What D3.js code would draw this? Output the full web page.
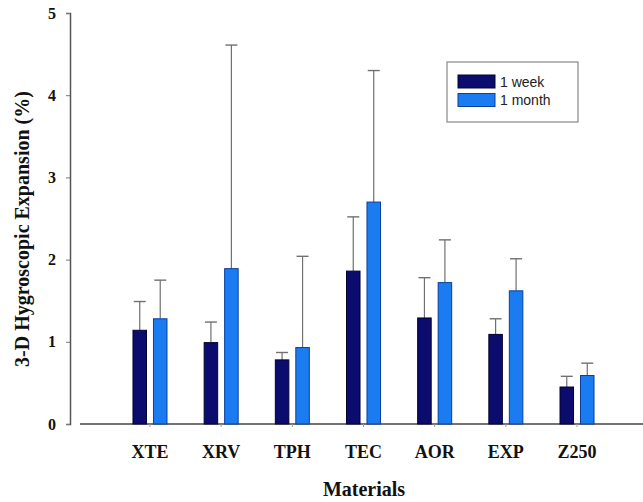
<!DOCTYPE html>
<html>
<head>
<meta charset="utf-8">
<script src="https://cdn.jsdelivr.net/npm/d3@7"></script>
<style>
  html, body { margin: 0; padding: 0; background: #fff; }
  svg { display: block; }
</style>
</head>
<body>
<svg id="chart" width="643" height="502"></svg>
<script>
const categories = ["XTE", "XRV", "TPH", "TEC", "AOR", "EXP", "Z250"];
const seriesNames = ["1 week", "1 month"];
const weekValues = [1.14, 0.99, 0.78, 1.86, 1.29, 1.09, 0.45];
const weekErrors = [0.35, 0.25, 0.09, 0.66, 0.49, 0.19, 0.13];
const monthValues = [1.28, 1.89, 0.93, 2.70, 1.72, 1.62, 0.59];
const monthErrors = [0.47, 2.72, 1.11, 1.60, 0.52, 0.39, 0.15];
const yTicks = [0, 1, 2, 3, 4, 5];
const colors = ["#0c0c6e", "#1b7bf0"];
const strokes = ["#02022e", "#0a3f9e"];

const svg = d3.select("#chart");
const serif = "'Liberation Serif', 'Times New Roman', serif";
const sans = "'Liberation Sans', Arial, sans-serif";

const y = d3.scaleLinear().domain([0, 5]).range([424, 13]);
const x0 = d3.scaleBand().domain(categories).range([114.4, 612.6]).paddingInner(0).paddingOuter(0);
const x1 = d3.scaleBand().domain(seriesNames).range([-17, 17]).paddingInner(0.34);

const series = [
  { name: seriesNames[0], values: weekValues, errors: weekErrors },
  { name: seriesNames[1], values: monthValues, errors: monthErrors }
];

// Y axis
const yAxis = d3.axisLeft(y).tickValues(yTicks).tickSize(4).tickPadding(10).tickFormat(d3.format("d"));
const gy = svg.append("g").attr("transform", "translate(70,0)").call(yAxis);
gy.select(".domain").attr("stroke", "#555").attr("stroke-width", 1.5);
gy.selectAll(".tick line").attr("stroke", "#777");
gy.selectAll(".tick text").attr("font-family", serif).attr("font-weight", "bold").attr("font-size", 16).attr("fill", "#111");

// X axis
const xAxis = d3.axisBottom(x0).tickSize(3).tickPadding(18).tickSizeOuter(0);
const gx = svg.append("g").attr("transform", "translate(0,424)").call(xAxis);
gx.select(".domain").attr("d", "M80,0H643").attr("stroke", "#444").attr("stroke-width", 1.6);
gx.selectAll(".tick line").attr("stroke", "#999");
gx.selectAll(".tick text").attr("font-family", serif).attr("font-weight", "bold").attr("font-size", 18).attr("fill", "#111");

// Bars
series.forEach((s, si) => {
  const g = svg.append("g");
  categories.forEach((c, i) => {
    const cx = x0(c) + x0.bandwidth() / 2;
    const bx = cx + x1(s.name);
    const bw = x1.bandwidth();
    const top = y(s.values[i] + s.errors[i]);
    const mid = bx + bw / 2;
    g.append("line").attr("x1", mid).attr("x2", mid)
      .attr("y1", y(s.values[i])).attr("y2", top)
      .attr("stroke", "#707070").attr("stroke-width", 1.2);
    g.append("line").attr("x1", mid - 6).attr("x2", mid + 6)
      .attr("y1", top).attr("y2", top)
      .attr("stroke", "#707070").attr("stroke-width", 1.4);
    g.append("rect")
      .attr("x", bx).attr("y", y(s.values[i]))
      .attr("width", bw).attr("height", y(0) - y(s.values[i]))
      .attr("fill", colors[si]).attr("stroke", strokes[si]).attr("stroke-width", 1);
  });
});

// Legend
const lg = svg.append("g");
lg.append("rect").attr("x", 447).attr("y", 62).attr("width", 131).attr("height", 60)
  .attr("fill", "#fff").attr("stroke", "#888").attr("stroke-width", 1.2);
series.forEach((s, si) => {
  lg.append("rect").attr("x", 458).attr("y", 75 + si * 18.5).attr("width", 37).attr("height", 13)
    .attr("fill", colors[si]).attr("stroke", strokes[si]).attr("stroke-width", 1);
  lg.append("text").attr("x", 500).attr("y", 86.5 + si * 18.5).text(s.name)
    .attr("font-family", sans).attr("font-size", 14).attr("fill", "#222");
});

// Axis titles
svg.append("text").attr("transform", "translate(29,229) rotate(-90)")
  .attr("text-anchor", "middle").attr("font-family", serif).attr("font-weight", "bold")
  .attr("font-size", 20).attr("fill", "#111").text("3-D Hygroscopic Expansion (%)");
svg.append("text").attr("x", 364).attr("y", 496)
  .attr("text-anchor", "middle").attr("font-family", serif).attr("font-weight", "bold")
  .attr("font-size", 20).attr("fill", "#111").text("Materials");
</script>
</body>
</html>
